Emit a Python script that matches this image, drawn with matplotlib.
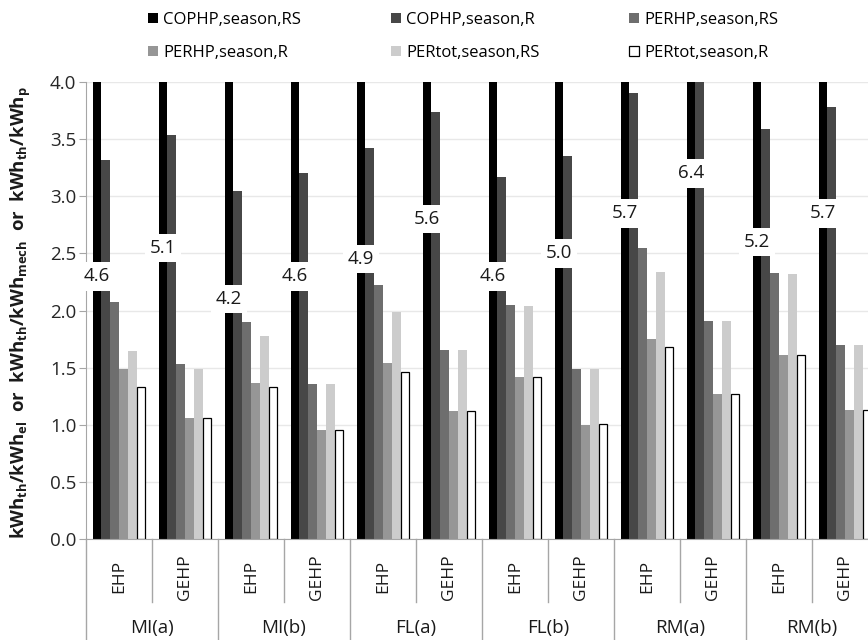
import numpy as np
import matplotlib.pyplot as plt
from matplotlib.patches import Patch

plt.rcParams['font.family'] = ['Open Sans', 'DejaVu Sans']
plt.rcParams['mathtext.fontset'] = 'custom'
plt.rcParams['mathtext.rm'] = 'Open Sans:bold'
plt.rcParams['mathtext.it'] = 'Open Sans:bold'
plt.rcParams['mathtext.bf'] = 'Open Sans:bold'
plt.rcParams['mathtext.default'] = 'rm'

# categories
locations = ['MI(a)', 'MI(b)', 'FL(a)', 'FL(b)', 'RM(a)', 'RM(b)']
systems = ['EHP', 'GEHP']

# series (one value per location/system, EHP then GEHP)
series_names = ['COPHP,season,RS', 'COPHP,season,R', 'PERHP,season,RS',
                'PERHP,season,R', 'PERtot,season,RS', 'PERtot,season,R']
cop_rs = [4.6, 5.1, 4.2, 4.6, 4.9, 5.6, 4.6, 5.0, 5.7, 6.4, 5.2, 5.7]
cop_r = [3.32, 3.54, 3.05, 3.20, 3.42, 3.74, 3.17, 3.35, 3.90, 4.26, 3.59, 3.78]
per_hp_rs = [2.08, 1.53, 1.90, 1.36, 2.22, 1.66, 2.05, 1.49, 2.55, 1.91, 2.33, 1.70]
per_hp_r = [1.49, 1.06, 1.37, 0.96, 1.54, 1.12, 1.42, 1.00, 1.75, 1.27, 1.61, 1.13]
per_tot_rs = [1.65, 1.49, 1.78, 1.36, 1.99, 1.66, 2.04, 1.49, 2.34, 1.91, 2.32, 1.70]
per_tot_r = [1.33, 1.06, 1.33, 0.96, 1.46, 1.12, 1.42, 1.01, 1.68, 1.27, 1.61, 1.13]

all_series = [cop_rs, cop_r, per_hp_rs, per_hp_r, per_tot_rs, per_tot_r]
colors = ['#000000', '#474747', '#6e6e6e', '#969696', '#cccccc', '#ffffff']
grey = '#a6a6a6'

fig = plt.figure(figsize=(8.68, 6.4), dpi=100)
ax = fig.add_axes([86 / 868, 1 - 539.3 / 640, 792 / 868, 457.3 / 640])

n_cat = len(locations) * len(systems)
x = np.arange(n_cat)
width = 0.8 / len(all_series)
handles = []
for i, (vals, c) in enumerate(zip(all_series, colors)):
    off = (i - 2.5) * width
    ec = 'black' if c == '#ffffff' else c
    lw = 0.9 if c == '#ffffff' else 0
    ax.bar(x + off, vals, width, color=c, edgecolor=ec, linewidth=lw, zorder=2)
    handles.append(Patch(facecolor=c, edgecolor=ec, linewidth=0.9 if lw else 0))

# value labels for the clipped series
for i, v in enumerate(cop_rs):
    ax.text(x[i] - 2.5 * width, v / 2, f'{v:.1f}', ha='center', va='center',
            fontsize=13.5, color='#1a1a1a', zorder=5,
            bbox=dict(boxstyle='square,pad=0.28', fc='white', ec='none'))

ax.set_ylim(0, 4)
ax.set_xlim(-0.5, n_cat - 0.5)
ax.set_yticks(np.arange(0, 4.01, 0.5))
ax.set_yticklabels([f'{t:.1f}' for t in np.arange(0, 4.01, 0.5)])
ax.set_xticks([])
ax.yaxis.grid(True, color='#e8e8e8', lw=1)
ax.set_axisbelow(True)
for s in ['top', 'right']:
    ax.spines[s].set_visible(False)
ax.spines['left'].set_color(grey)
ax.spines['bottom'].set_color(grey)
ax.tick_params(axis='y', length=5, color=grey, labelsize=13.5, labelcolor='#262626', pad=2)

# two-level category axis
tr = ax.get_xaxis_transform()
for k in range(n_cat + 1):
    xb = k - 0.5
    y_end = -0.3 if k % 2 == 0 else -0.138
    ax.plot([xb, xb], [0, y_end], transform=tr, clip_on=False, color=grey, lw=1)
for i in range(n_cat):
    ax.text(x[i], -0.082, systems[i % 2], transform=tr, rotation=90,
            ha='center', va='center', fontsize=12.5, color='#1a1a1a')
for j, loc in enumerate(locations):
    ax.text(2 * j + 0.5, -0.194, loc, transform=tr, ha='center', va='center',
            fontsize=13.5, color='#1a1a1a')

fig.text(0.024, 0.511,
         r'kWh$_{th}$/kWh$_{el}$  or  kWh$_{th}$/kWh$_{mech}$  or  kWh$_{th}$/kWh$_{p}$',
         rotation=90, ha='center', va='center', fontsize=13.3, fontweight='bold',
         color='#1a1a1a')

order = [0, 3, 1, 4, 2, 5]
fig.legend([handles[k] for k in order], [series_names[k] for k in order],
           loc='upper left', bbox_to_anchor=(0.163, 0.992), ncol=3, frameon=False,
           fontsize=12, handlelength=0.6, handleheight=0.6, handletextpad=0.3,
           columnspacing=5.4, labelspacing=1.02, borderaxespad=0.2, borderpad=0.2)

fig.savefig('out.png', dpi=100)
